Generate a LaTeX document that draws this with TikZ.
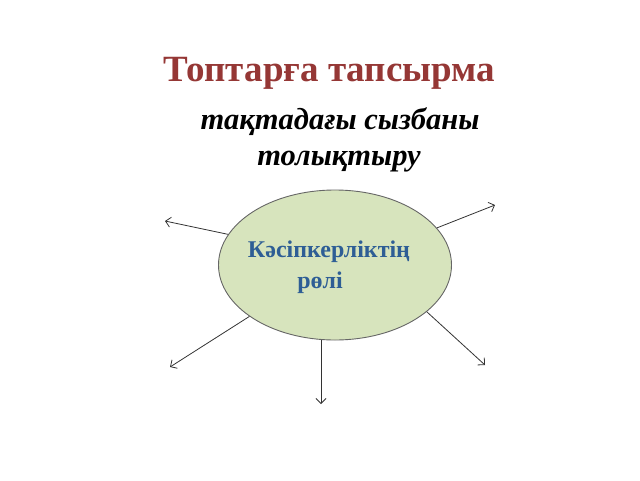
\documentclass[tikz,border=0pt]{standalone}
\usepackage{fontspec}
\setmainfont{Liberation Serif}
\usetikzlibrary{shapes.geometric, arrows.meta}
\definecolor{titlered}{HTML}{953735}
\definecolor{rolegreen}{HTML}{D7E4BD}
\definecolor{roleblue}{HTML}{2E5E95}
\begin{document}
\begin{tikzpicture}[
  x=1pt, y=-1pt,
  title/.style={
    font=\bfseries\fontsize{37}{42}\selectfont, text=titlered, inner sep=0pt
  },
  task/.style={
    font=\bfseries\itshape\fontsize{30.5}{36}\selectfont, inner sep=0pt
  },
  role/.style={
    font=\bfseries\fontsize{24}{28}\selectfont, text=roleblue, inner sep=0pt
  },
  spoke/.style={
    draw=black!80, line width=0.8pt, -{Straight Barb[length=5pt, width=10pt]}
  }
  ]
  \useasboundingbox (0,0) rectangle (640,480);
  \node[title] (head) at (329,73) {Топтарға тапсырма};
  \node[task] (task1) at (340,122) {тақтадағы сызбаны};
  \node[task] (task2) at (339,162) {толықтыру};
  \node[ellipse, draw=black!60, line width=0.9pt, fill=rolegreen,
    minimum width=233pt, minimum height=150pt, inner sep=0pt] (hub) at (335,265) {};
  \node[role] (role1) at (329,252) {Кәсіпкерліктің};
  \node[role] (role2) at (320,283) {рөлі};
  \coordinate (ul) at (165,221);
  \coordinate (ur) at (495,205);
  \coordinate (ll) at (170,367);
  \coordinate (dn) at (321,404);
  \coordinate (lr) at (485,365);
  \draw[spoke] (hub.164) -- (ul);
  \draw[spoke] (hub.20) -- (ur);
  \draw[spoke] (hub.211) -- (ll);
  \draw[spoke] (hub.333) -- (lr);
  \draw[spoke] (hub.south -| dn) -- (dn);
\end{tikzpicture}
\end{document}
